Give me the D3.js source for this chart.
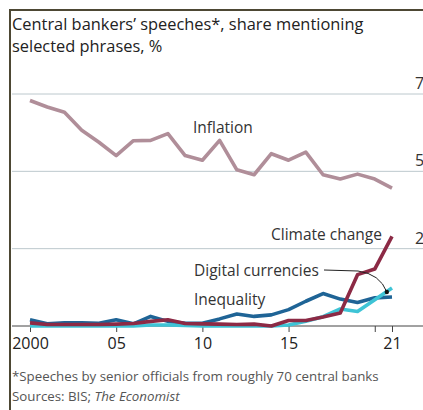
<!DOCTYPE html>
<html lang="en">
<head>
    <meta charset="UTF-8">
    <title>Central bankers' speeches</title>
    <script src="https://d3js.org/d3.v7.min.js"></script>
    <style>
        body { margin: 0; background: #fff; }
        text { font-family: "Open Sans", "Noto Sans", sans-serif; }
    </style>
</head>
<body>
    <svg id="chart"></svg>

    <script>
        const years = d3.range(2000, 2022);
        const inflation = [72.9, 70.8, 69.1, 63.3, 59.4, 55.1, 59.9, 60.0, 62.2, 55.1, 53.6,
                           60.0, 50.5, 48.9, 55.7, 53.6, 56.2, 48.9, 47.5, 49.1, 47.5, 44.6];
        const inequality = [2.0, 0.7, 1.0, 1.0, 0.9, 2.0, 0.7, 3.1, 1.5, 0.9, 0.9,
                            2.3, 3.9, 3.1, 3.6, 5.3, 8.0, 10.5, 8.7, 7.6, 9.1, 9.4];
        const digital = [0, 0, 0, 0, 0, 0, 0, 0.3, 0.3, 0.2, 0,
                         0, 0, 0, 0, 0.3, 1.5, 3.0, 5.5, 4.7, 8.5, 12.3];
        const climate = [1.0, 0.5, 0.5, 0.5, 0.5, 0.6, 0.8, 1.5, 2.0, 0.8, 0.7,
                         0.6, 0.5, 0.6, 0.0, 1.8, 1.8, 2.9, 4.2, 16.6, 18.4, 29.0];
        const yTicks = [0, 25, 50, 75];
        const xTicks = [2000, 2005, 2010, 2015, 2020, 2021];
        const xLabels = { 2000: "2000", 2005: "05", 2010: "10", 2015: "15", 2021: "21" };

        const width = 423, height = 410;
        const svg = d3.select("#chart").attr("width", width).attr("height", height);

        const x = d3.scaleLinear().domain([2000, 2021]).range([30, 392]);
        const y = d3.scaleLinear().domain([0, 75]).range([326, 94]);

        // frame
        svg.append("path")
            .attr("d", "M10,410V10H423")
            .attr("fill", "none")
            .attr("stroke", "#4d4834")
            .attr("stroke-width", 2);

        // title
        const title = svg.append("text").attr("x", 12).attr("y", 30)
            .attr("font-size", 16.4).attr("fill", "#222");
        title.append("tspan").attr("x", 12).text("Central bankers’ speeches*, share mentioning");
        title.append("tspan").attr("x", 12).attr("dy", 22).text("selected phrases, %");

        // gridlines
        svg.append("g").selectAll("line")
            .data(yTicks.filter(d => d > 0))
            .join("line")
            .attr("x1", 12).attr("x2", width)
            .attr("y1", d => y(d)).attr("y2", d => y(d))
            .attr("stroke", "#bcc8cd").attr("stroke-width", 1);

        svg.append("g").selectAll("text")
            .data(yTicks.filter(d => d > 0))
            .join("text")
            .attr("x", 415).attr("y", d => y(d) - 5)
            .attr("font-size", 16).attr("fill", "#333")
            .text(d => d);

        // x axis
        const xAxis = svg.append("g").attr("transform", `translate(0,${y(0)})`)
            .call(d3.axisBottom(x).tickValues(xTicks).tickSize(6)
                .tickFormat(d => xLabels[d] || ""));
        xAxis.select(".domain").remove();
        xAxis.append("line").attr("x1", 12).attr("x2", width)
            .attr("stroke", "#444").attr("stroke-width", 1);
        xAxis.selectAll(".tick line").attr("stroke", "#444");
        xAxis.selectAll(".tick text")
            .attr("font-family", "'Open Sans', sans-serif")
            .attr("font-size", 16).attr("fill", "#222").attr("dy", "0.9em");

        const line = d3.line().x((d, i) => x(years[i])).y(d => y(d));
        const series = [
            { values: inflation, color: "#b08e99" },
            { values: inequality, color: "#1f6496" },
            { values: digital, color: "#3ec4d6" },
            { values: climate, color: "#8c2a45" }
        ];
        svg.append("g").selectAll("path")
            .data(series)
            .join("path")
            .attr("d", d => line(d.values))
            .attr("fill", "none")
            .attr("stroke", d => d.color)
            .attr("stroke-width", 3.6)
            .attr("stroke-linejoin", "round");

        // annotations
        const lab = svg.append("g").attr("font-size", 15.5).attr("fill", "#333");
        lab.append("text").attr("x", 193).attr("y", 133).text("Inflation");
        lab.append("text").attr("x", 382).attr("y", 240).attr("text-anchor", "end").text("Climate change");
        lab.append("text").attr("x", 194).attr("y", 276).text("Digital currencies");
        lab.append("text").attr("x", 194).attr("y", 305).text("Inequality");

        svg.append("path")
            .attr("d", `M324,270 L358,271 Q380,274 ${x(2020.7)},${y(11)}`)
            .attr("fill", "none").attr("stroke", "#222").attr("stroke-width", 1);
        svg.append("circle").attr("cx", x(2020.7)).attr("cy", y(11)).attr("r", 2.2).attr("fill", "#111");

        // footnotes
        const foot = svg.append("g").attr("font-size", 13.3).attr("fill", "#555");
        foot.append("text").attr("x", 12).attr("y", 381)
            .text("*Speeches by senior officials from roughly 70 central banks");
        const src = foot.append("text").attr("x", 12).attr("y", 401);
        src.append("tspan").text("Sources: BIS; ");
        src.append("tspan").attr("font-style", "italic").text("The Economist");
    </script>
</body>
</html>
